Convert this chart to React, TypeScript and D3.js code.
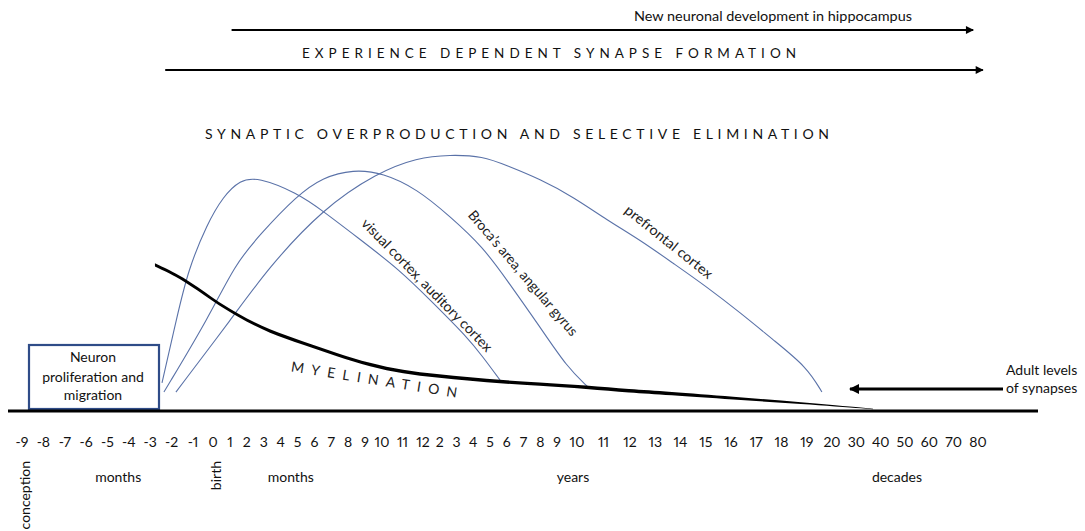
import React from "react";
import * as d3 from "d3";

const W = 1085;
const H = 531;

// Tick labels along the (non-uniform) developmental time axis
const TICK_LABELS = [
  "-9", "-8", "-7", "-6", "-5", "-4", "-3", "-2", "-1",
  "0", "1", "2", "3", "4", "5", "6", "7", "8", "9", "10", "11", "12",
  "2", "3", "4", "5", "6", "7", "8", "9", "10", "11", "12", "13", "14", "15", "16", "17", "18", "19", "20",
  "30", "40", "50", "60", "70", "80",
];

// Period labels: [text, tick index]
const PERIOD_LABELS: [string, number][] = [
  ["months", 4.5],
  ["months", 13.6],
  ["years", 29.8],
  ["decades", 42.67],
];
const ROTATED_LABELS: [string, number][] = [
  ["conception", 0],
  ["birth", 9],
];

// Curves: [tick index, relative synapse level 0-100]
const visualCortex: [number, number][] = [
  [6.55, 10.4], [7.25, 35.8], [7.77, 53.8], [8.7, 71.5], [9.59, 82], [10.6, 88.5],
  [11.66, 89.5], [13.97, 83.5], [15.51, 76.5], [17.52, 66.5], [19.88, 53.8],
  [21.6, 41.2], [23.63, 28.1], [24.58, 20.4], [25.6, 11.5],
];
const brocaArea: [number, number][] = [
  [6.64, 6.9], [8.8, 35.8], [10.3, 56], [11.78, 67.5], [13.97, 82.5], [15.51, 89.5],
  [17.29, 92.5], [19.05, 91.2], [20.71, 85], [22.61, 74.5], [24.58, 62.7],
  [26.01, 50], [27.99, 31.9], [29.5, 16.5], [30.42, 8.8],
];
const prefrontalCortex: [number, number][] = [
  [7.2, 6.9], [10.18, 35.8], [12.25, 54.5], [15.51, 77.5], [18.7, 91.2], [20.71, 97],
  [22.61, 98.2], [24.58, 97.6], [26.01, 94], [27.99, 88.8], [29.8, 82],
  [31.13, 73.1], [32.4, 65.4], [33.7, 56.5], [35.05, 47.3], [36.38, 37.3],
  [37.68, 26.9], [39.01, 16.5], [39.6, 6.9],
];
const myelination: [number, number][] = [
  [6.22, 55.8], [7.53, 50.8], [9.0, 42.3], [10.42, 36.5], [12.37, 30], [14.33, 25.8],
  [16.34, 21.2], [18.29, 17.3], [20.02, 14.6], [21.84, 13.1], [23.81, 11.9],
  [25.78, 10.8], [27.81, 10], [30.38, 8.8], [32, 7.3], [33.47, 6.5], [36.08, 4.6],
  [38.73, 2.7], [41.69, 0.4],
];

// Arrow spans in tick-index units
const hippocampusSpan: [number, number] = [10.1, 45.8];
const experienceSpan: [number, number] = [6.7, 46.2];

const FONT = "Lato, 'Open Sans', sans-serif";
const BLUE = "#5a72a8";

export default function App() {
  const x = d3
    .scaleLinear()
    .domain([0, 8, 9, 19, 21, 29, 30, 32, 40, 46])
    .range([22, 193, 213, 382, 423, 557, 577, 630, 832, 978]);
  const y = d3.scaleLinear().domain([0, 100]).range([410, 150]);

  const line = d3
    .line<[number, number]>()
    .x((d) => x(d[0]))
    .y((d) => y(d[1]))
    .curve(d3.curveBasis);

  const endIdx = myelination[myelination.length - 1][0];
  const thick = (i: number) => (i < 35 ? 3.4 : Math.max(0.5, 3.4 - ((i - 35) / (endIdx - 35)) * 3.0));
  const myelArea = d3
    .area<[number, number]>()
    .x((d) => x(d[0]))
    .y0((d) => y(d[1]) + thick(d[0]) / 2)
    .y1((d) => y(d[1]) - thick(d[0]) / 2)
    .curve(d3.curveBasis);

  const curveLabels = [
    { text: "visual cortex, auditory cortex", cx: 426, cy: 286, angle: 45.6, len: 180 },
    { text: "Broca\u2019s area, angular gyrus", cx: 522, cy: 274, angle: 49.4, len: 160 },
    { text: "prefrontal cortex", cx: 668, cy: 243, angle: 38.6, len: 108 },
  ];

  return (
    <svg
      width={W}
      height={H}
      style={{ position: "absolute", left: 0, top: 0, display: "block", background: "#fff", fontVariantNumeric: "proportional-nums" }}
      fontFamily={FONT}
    >
      <defs>
        <marker id="ah" viewBox="0 0 10 10" refX="9" refY="5" markerUnits="userSpaceOnUse" markerWidth="9" markerHeight="8" orient="auto">
          <path d="M0,0 L10,5 L0,10 z" fill="#000" />
        </marker>
        <marker id="ah2" viewBox="0 0 10 10" refX="9" refY="5" markerUnits="userSpaceOnUse" markerWidth="13" markerHeight="10" orient="auto">
          <path d="M0,0 L10,5 L0,10 z" fill="#000" />
        </marker>
      </defs>

      {/* Top arrows and titles */}
      <text x={634} y={21} fontSize={13} fill="#111" textLength={278} lengthAdjust="spacingAndGlyphs">
        New neuronal development in hippocampus
      </text>
      <line x1={x(hippocampusSpan[0])} x2={x(hippocampusSpan[1])} y1={30} y2={30} stroke="#000" strokeWidth={1.8} markerEnd="url(#ah)" />
      <text x={302} y={58} fontSize={13.5} fill="#111" textLength={494} lengthAdjust="spacing">
        EXPERIENCE DEPENDENT SYNAPSE FORMATION
      </text>
      <line x1={x(experienceSpan[0])} x2={x(experienceSpan[1])} y1={70} y2={70} stroke="#000" strokeWidth={2.2} markerEnd="url(#ah)" />
      <text x={205} y={139} fontSize={14} fill="#111" textLength={624} lengthAdjust="spacing">
        SYNAPTIC OVERPRODUCTION AND SELECTIVE ELIMINATION
      </text>

      {/* Synaptic curves */}
      {[visualCortex, brocaArea, prefrontalCortex].map((d, i) => (
        <path key={i} d={line(d) || ""} fill="none" stroke={BLUE} strokeWidth={1.1} />
      ))}

      {curveLabels.map((l, i) => (
        <text
          key={i}
          transform={`translate(${l.cx},${l.cy}) rotate(${l.angle})`}
          textAnchor="middle"
          dominantBaseline="middle"
          fontSize={14}
          fill="#222"
          textLength={l.len}
          lengthAdjust="spacingAndGlyphs"
        >
          {l.text}
        </text>
      ))}

      {/* Myelination */}
      <path d={myelArea(myelination) || ""} fill="#000" />
      <text
        transform="translate(374,381) rotate(9)"
        textAnchor="middle"
        dominantBaseline="middle"
        fontSize={14}
        fill="#222"
        textLength={168}
        lengthAdjust="spacing"
      >
        MYELINATION
      </text>

      {/* Neuron box */}
      <rect x={29} y={345} width={130} height={64} fill="#fff" stroke="#2f4c88" strokeWidth={2.2} />
      <text textAnchor="middle" fontSize={14} fill="#111">
        <tspan x={93} y={362}>Neuron</tspan>
        <tspan x={93} y={382}>proliferation and</tspan>
        <tspan x={93} y={400}>migration</tspan>
      </text>

      {/* Axis line */}
      <line x1={8} x2={1038} y1={411} y2={411} stroke="#000" strokeWidth={3} />

      {/* Adult levels annotation */}
      <line x1={1003} x2={850} y1={389} y2={389} stroke="#000" strokeWidth={3} markerEnd="url(#ah2)" />
      <text x={1006} y={375} fontSize={14} fill="#111">Adult levels</text>
      <text x={1006} y={393} fontSize={14} fill="#111">of synapses</text>

      {/* Tick labels */}
      {TICK_LABELS.map((t, i) => (
        <text key={i} x={x(i)} y={447} textAnchor="middle" fontSize={14} fill="#111">
          {t}
        </text>
      ))}

      {PERIOD_LABELS.map(([t, i], k) => (
        <text key={k} x={x(i)} y={482} textAnchor="middle" fontSize={14} fill="#111">
          {t}
        </text>
      ))}
      {ROTATED_LABELS.map(([t, i], k) => (
        <text key={k} transform={`translate(${x(i) + 8},${461}) rotate(-90)`} textAnchor="end" fontSize={14} fill="#111">
          {t}
        </text>
      ))}
    </svg>
  );
}
